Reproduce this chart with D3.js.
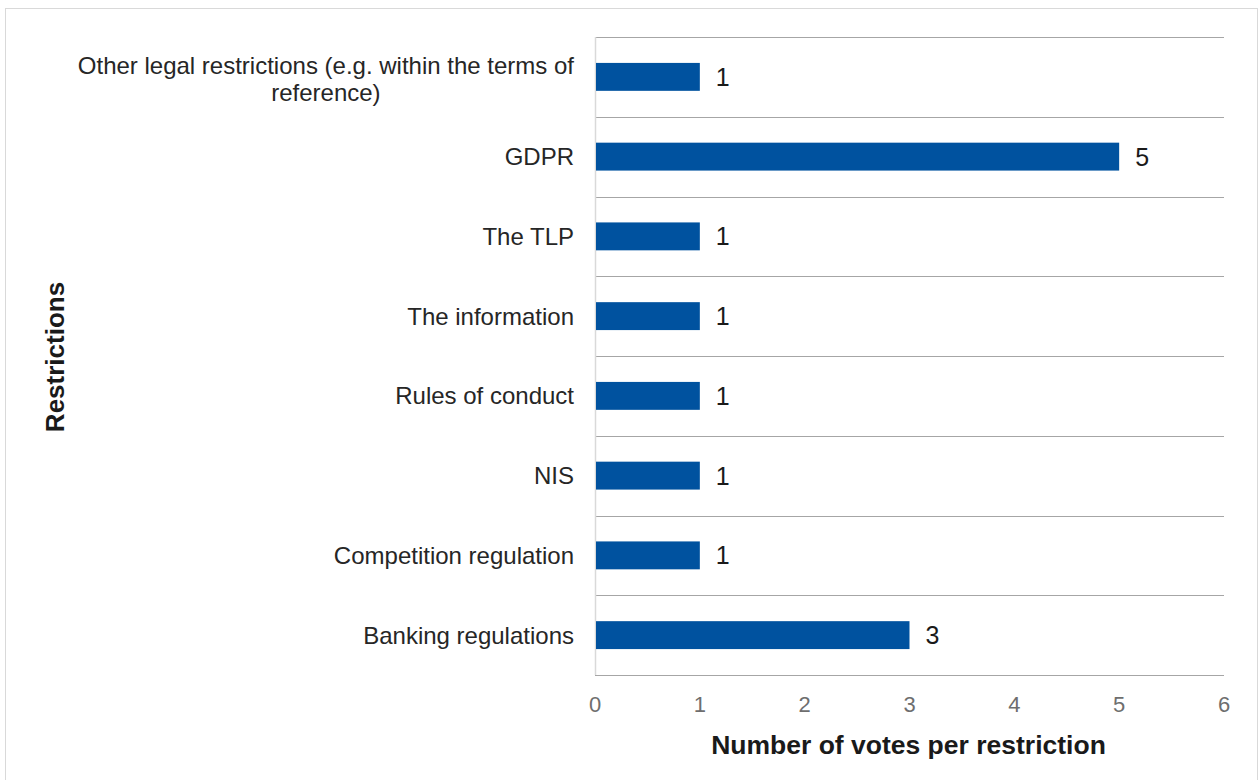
<!DOCTYPE html>
<html>
<head>
<meta charset="utf-8">
<script src="https://cdn.jsdelivr.net/npm/d3@7/dist/d3.min.js"></script>
<style>
  html, body { margin: 0; padding: 0; background: #fff; }
  svg { display: block; font-family: "Liberation Sans", Arial, sans-serif; }
</style>
</head>
<body>
<svg id="chart" width="1260" height="780"></svg>
<script>
// Restriction categories, listed top to bottom
const categories = [
  ["Other legal restrictions (e.g. within the terms of", "reference)"],
  ["GDPR"],
  ["The TLP"],
  ["The information"],
  ["Rules of conduct"],
  ["NIS"],
  ["Competition regulation"],
  ["Banking regulations"]
];
const votes = [1, 5, 1, 1, 1, 1, 1, 3];
const xTicks = [0, 1, 2, 3, 4, 5, 6];

const svg = d3.select("#chart");
const W = 1260, H = 780;
const margin = { top: 37, right: 36, bottom: 105, left: 595 };
const plotW = W - margin.left - margin.right;
const plotH = H - margin.top - margin.bottom;

// outer frame
svg.append("rect")
  .attr("x", 5.5).attr("y", 8.5)
  .attr("width", 1252).attr("height", 780)
  .attr("fill", "#fff").attr("stroke", "#d9d9d9").attr("stroke-width", 1);

const g = svg.append("g").attr("transform", `translate(${margin.left},${margin.top})`);

const x = d3.scaleLinear().domain([0, 6]).range([0, plotW]);
const y = d3.scaleBand().domain(d3.range(categories.length)).range([0, plotH])
  .paddingInner(0.65).paddingOuter(0.325);

// horizontal separators between categories
const sepY = d3.range(categories.length + 1).map(i => i * (plotH / categories.length));
g.selectAll("line.sep").data(sepY).join("line")
  .attr("class", "sep")
  .attr("x1", 0).attr("x2", plotW)
  .attr("y1", d => Math.round(d) + 0.5).attr("y2", d => Math.round(d) + 0.5)
  .attr("stroke", "#a6a6a6").attr("stroke-width", 1.2);

// vertical category axis line
g.append("line")
  .attr("x1", 0.5).attr("x2", 0.5).attr("y1", 0).attr("y2", plotH)
  .attr("stroke", "#d9d9d9").attr("stroke-width", 1.5);

// bars
g.selectAll("rect.bar").data(votes).join("rect")
  .attr("class", "bar")
  .attr("x", x(0) + 1)
  .attr("y", (d, i) => y(i))
  .attr("width", d => x(d) - x(0) - 1)
  .attr("height", y.bandwidth())
  .attr("fill", "#00529f");

// value labels
g.selectAll("text.val").data(votes).join("text")
  .attr("class", "val")
  .attr("x", d => x(d) + 16)
  .attr("y", (d, i) => y(i) + y.bandwidth() / 2)
  .attr("dy", "0.36em")
  .attr("font-size", 25)
  .attr("fill", "#1a1a1a")
  .text(d => d);

// category labels
const labelX = -21;
categories.forEach((lines, i) => {
  const cy = y(i) + y.bandwidth() / 2;
  const t = g.append("text")
    .attr("font-size", 24)
    .attr("fill", "#262626");
  if (lines.length === 1) {
    t.attr("x", labelX).attr("y", cy).attr("dy", "0.35em")
      .attr("text-anchor", "end").text(lines[0]);
  } else {
    const lh = 27.5;
    const first = t.append("tspan").text(lines[0]);
    const w = first.node().getComputedTextLength();
    const cx = labelX - w / 2;
    t.attr("text-anchor", "middle");
    lines.forEach((ln, k) => {
      const sp = k === 0 ? first : t.append("tspan").text(ln);
      sp.attr("x", cx)
        .attr("y", cy + 2 + (k - (lines.length - 1) / 2) * lh)
        .attr("dy", "0.35em");
    });
  }
});

// value axis tick labels
g.selectAll("text.tick").data(xTicks).join("text")
  .attr("class", "tick")
  .attr("x", d => x(d))
  .attr("y", plotH + 37)
  .attr("text-anchor", "middle")
  .attr("font-size", 22)
  .attr("fill", "#6e6e6e")
  .text(d => d);

// axis titles
svg.append("text")
  .attr("x", margin.left + plotW / 2 - 1)
  .attr("y", 754)
  .attr("text-anchor", "middle")
  .attr("font-size", 26.5)
  .attr("font-weight", "bold")
  .attr("fill", "#1a1a1a")
  .text("Number of votes per restriction");

svg.append("text")
  .attr("transform", `translate(64, ${margin.top + plotH / 2 + 1}) rotate(-90)`)
  .attr("text-anchor", "middle")
  .attr("font-size", 26)
  .attr("font-weight", "bold")
  .attr("fill", "#1a1a1a")
  .text("Restrictions");
</script>
</body>
</html>
